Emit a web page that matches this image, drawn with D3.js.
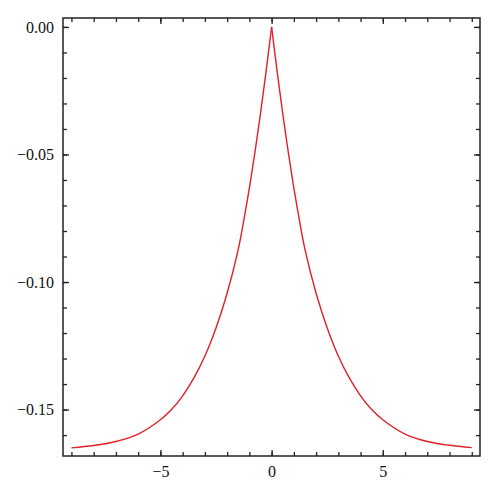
<!DOCTYPE html>
<html lang="en">
<head>
    <meta charset="UTF-8">
    <title>Cusp curve</title>
    <script src="https://d3js.org/d3.v7.min.js"></script>
    <style>
        body {
            margin: 0;
            background: #fff;
        }
        .tick text {
            font-family: "Liberation Serif", "Times New Roman", serif;
            font-size: 16px;
            fill: #111;
        }
        .tick line {
            stroke: #222;
            stroke-width: 1.3;
        }
    </style>
</head>
<body>
    <div id="container"></div>

    <script>
        // values
        const xRight = [0, 0.25, 0.5, 0.75, 1, 1.25, 1.5, 2, 2.5, 3, 3.5, 4, 4.5, 5, 6, 7, 8, 9];
        const yRight = [0, -0.0175, -0.0340, -0.0492, -0.0632, -0.0758, -0.0872, -0.1044, -0.1180,
                        -0.1290, -0.1377, -0.1446, -0.1500, -0.1540, -0.1596, -0.1625, -0.1640, -0.1649];
        const xLeft = [-9, -8, -7, -6, -5, -4.5, -4, -3.5, -3, -2.5, -2, -1.5, -1.25, -1, -0.75, -0.5, -0.25, 0];
        const yLeft = [-0.1650, -0.1641, -0.1625, -0.1596, -0.1540, -0.1500, -0.1446, -0.1377, -0.1290,
                       -0.1180, -0.1044, -0.0872, -0.0758, -0.0632, -0.0492, -0.0340, -0.0175, 0];

        const xTicks = [-5, 0, 5];
        const yTicks = [0, -0.05, -0.10, -0.15];
        const xMinor = d3.range(-9, 10, 1);
        const yMinor = d3.range(-16, 1, 1).map(d => d / 100);

        const width = 498, height = 500;
        const margin = {left: 63, top: 18, right: 18, bottom: 44};

        const svg = d3.select('#container').append('svg')
            .attr('width', width)
            .attr('height', height);

        const x = d3.scaleLinear()
            .domain([-9.38, 9.37])
            .range([margin.left, width - margin.right]);

        const y = d3.scaleLinear()
            .domain([-0.1682, 0.0035])
            .range([height - margin.bottom, margin.top]);

        const bottomY = height - margin.bottom;
        const rightX = width - margin.right;

        // minor ticks on every side
        svg.append('g').attr('transform', `translate(0,${bottomY})`)
            .call(d3.axisBottom(x).tickValues(xMinor).tickSize(-4).tickFormat(''));
        svg.append('g').attr('transform', `translate(0,${margin.top})`)
            .call(d3.axisTop(x).tickValues(xMinor).tickSize(-4).tickFormat(''));
        svg.append('g').attr('transform', `translate(${margin.left},0)`)
            .call(d3.axisLeft(y).tickValues(yMinor).tickSize(-4).tickFormat(''));
        svg.append('g').attr('transform', `translate(${rightX},0)`)
            .call(d3.axisRight(y).tickValues(yMinor).tickSize(-4).tickFormat(''));

        // major ticks with labels
        svg.append('g').attr('transform', `translate(0,${bottomY})`)
            .call(d3.axisBottom(x).tickValues(xTicks).tickSize(-6).tickPadding(10).tickFormat(d3.format('d')));
        svg.append('g').attr('transform', `translate(0,${margin.top})`)
            .call(d3.axisTop(x).tickValues(xTicks).tickSize(-6).tickFormat(''));
        svg.append('g').attr('transform', `translate(${margin.left},0)`)
            .call(d3.axisLeft(y).tickValues(yTicks).tickSize(-6).tickPadding(9).tickFormat(d3.format('.2f')));
        svg.append('g').attr('transform', `translate(${rightX},0)`)
            .call(d3.axisRight(y).tickValues(yTicks).tickSize(-6).tickFormat(''));

        svg.selectAll('.domain').remove();

        // frame
        svg.append('rect')
            .attr('x', margin.left)
            .attr('y', margin.top)
            .attr('width', rightX - margin.left)
            .attr('height', bottomY - margin.top)
            .attr('fill', 'none')
            .attr('stroke', '#222')
            .attr('stroke-width', 1.5);

        // curve, drawn in two halves to keep the cusp sharp
        const line = d3.line()
            .x(d => x(d[0]))
            .y(d => y(d[1]))
            .curve(d3.curveCatmullRom);

        const halves = [d3.zip(xLeft, yLeft), d3.zip(xRight, yRight)];

        svg.selectAll('path.curve')
            .data(halves)
            .enter()
            .append('path')
            .attr('class', 'curve')
            .attr('d', line)
            .attr('fill', 'none')
            .attr('stroke', '#e0202a')
            .attr('stroke-width', 1.4);
    </script>
</body>
</html>
